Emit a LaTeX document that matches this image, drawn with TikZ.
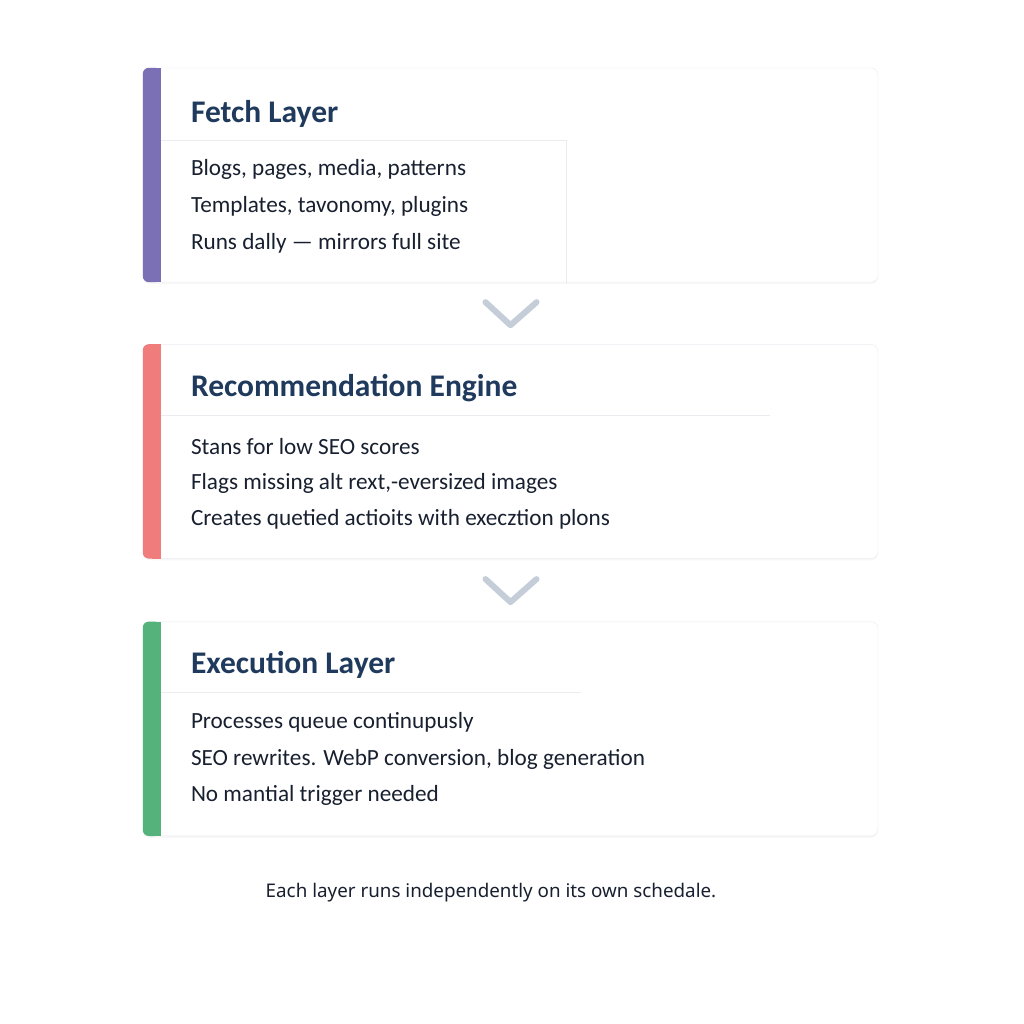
\documentclass[tikz,border=0pt]{standalone}
\usepackage{fontspec}
\setmainfont{Carlito}
\newfontfamily\notefont{Noto Sans}
\usepackage{tikz}
\usetikzlibrary{positioning}
\usetikzlibrary{shadows}
\usetikzlibrary{calc}
\definecolor{fetchcol}{RGB}{123, 111, 181}
\definecolor{reccol}{RGB}{240, 124, 124}
\definecolor{execcol}{RGB}{84, 178, 122}
\definecolor{titlecol}{RGB}{31, 58, 92}
\definecolor{textcol}{RGB}{24, 32, 48}
\definecolor{chevcol}{RGB}{197, 206, 216}
\definecolor{rulecol}{RGB}{234, 236, 240}

\tikzset{
  card/.style={draw=rulecol, fill=white, rounded corners=7pt, minimum width=735pt,
    minimum height=214pt, inner sep=0pt,
    drop shadow={shadow xshift=0pt, shadow yshift=-2pt, opacity=0.06}},
  cardtitle/.style={anchor=west, inner sep=0pt, text=titlecol, font=\fontsize{31.5}{34}\selectfont\bfseries},
  cardline/.style={anchor=west, inner sep=0pt, text=textcol, font=\fontsize{23.2}{26}\selectfont},
  chevron/.style={draw=chevcol, line width=6pt, line cap=round, line join=round},
  sep/.style={draw=rulecol, line width=1pt},
  note/.style={inner sep=0pt, text=textcol, font=\notefont\fontsize{18.8}{22}\selectfont}
}

\begin{document}
\begin{tikzpicture}[x=1pt, y=-1pt]
  \useasboundingbox[fill=white] (0,0) rectangle (1024,1024);

  % the three layers
  \node[card] (fetch) at (510.5,175) {};
  \node[card, below=62pt of fetch] (rec) {};
  \node[card, below=63pt of rec] (exec) {};

  % coloured side bars
  \foreach \n/\c in {fetch/fetchcol, rec/reccol, exec/execcol} {
    \fill[\c, rounded corners=6pt] (\n.north west) rectangle ([xshift=18pt]\n.south west);
    \fill[\c] ([xshift=9pt]\n.north west) rectangle ([xshift=18pt]\n.south west);
  }

  % rules under the titles
  \draw[sep] ([xshift=18pt, yshift=-73pt]fetch.north west) -- ++(406,0) -- ++(0,143);
  \draw[sep] ([xshift=18pt, yshift=-71pt]rec.north west) -- ++(609,0);
  \draw[sep] ([xshift=18pt, yshift=-71pt]exec.north west) -- ++(420,0);

  % titles
  \node[cardtitle] (fetch-t) at ([xshift=48pt, yshift=-46pt]fetch.north west) {Fetch Layer};
  \node[cardtitle] (rec-t) at ([xshift=48pt, yshift=-44pt]rec.north west) {Recommendation Engine};
  \node[cardtitle] (exec-t) at ([xshift=48pt, yshift=-43pt]exec.north west) {Execution Layer};

  % body lines
  \node[cardline] (fetch-1) at ([xshift=48pt, yshift=-102pt]fetch.north west) {Blogs, pages, media, patterns};
  \node[cardline] (fetch-2) at ([yshift=-37pt]fetch-1.west) {Templates, tavonomy, plugins};
  \node[cardline] (fetch-3) at ([yshift=-37pt]fetch-2.west) {Runs dally — mirrors full site};

  \node[cardline] (rec-1) at ([xshift=48pt, yshift=-102pt]rec.north west) {Stans for low SEO scores};
  \node[cardline] (rec-2) at ([yshift=-37pt]rec-1.west) {Flags missing alt rext,-eversized images};
  \node[cardline] (rec-3) at ([yshift=-36pt]rec-2.west) {Creates quetied actioits with execztion plons};

  \node[cardline] (exec-1) at ([xshift=48pt, yshift=-101pt]exec.north west) {Processes queue continupusly};
  \node[cardline] (exec-2) at ([yshift=-37pt]exec-1.west) {SEO rewrites. WebP conversion, blog generation};
  \node[cardline] (exec-3) at ([yshift=-36pt]exec-2.west) {No mantial trigger needed};

  % chevrons between the layers
  \coordinate (c1) at ($(fetch.south)!0.5!(rec.north)$);
  \coordinate (c2) at ($(rec.south)!0.5!(exec.north)$);
  \foreach \c in {c1, c2}
    \draw[chevron] ([xshift=-25pt, yshift=11pt]\c) -- ([yshift=-12pt]\c) -- ([xshift=26pt, yshift=11pt]\c);

  \node[note] (footer) at (491,893) {Each layer runs independently on its own schedale.};
\end{tikzpicture}
\end{document}
